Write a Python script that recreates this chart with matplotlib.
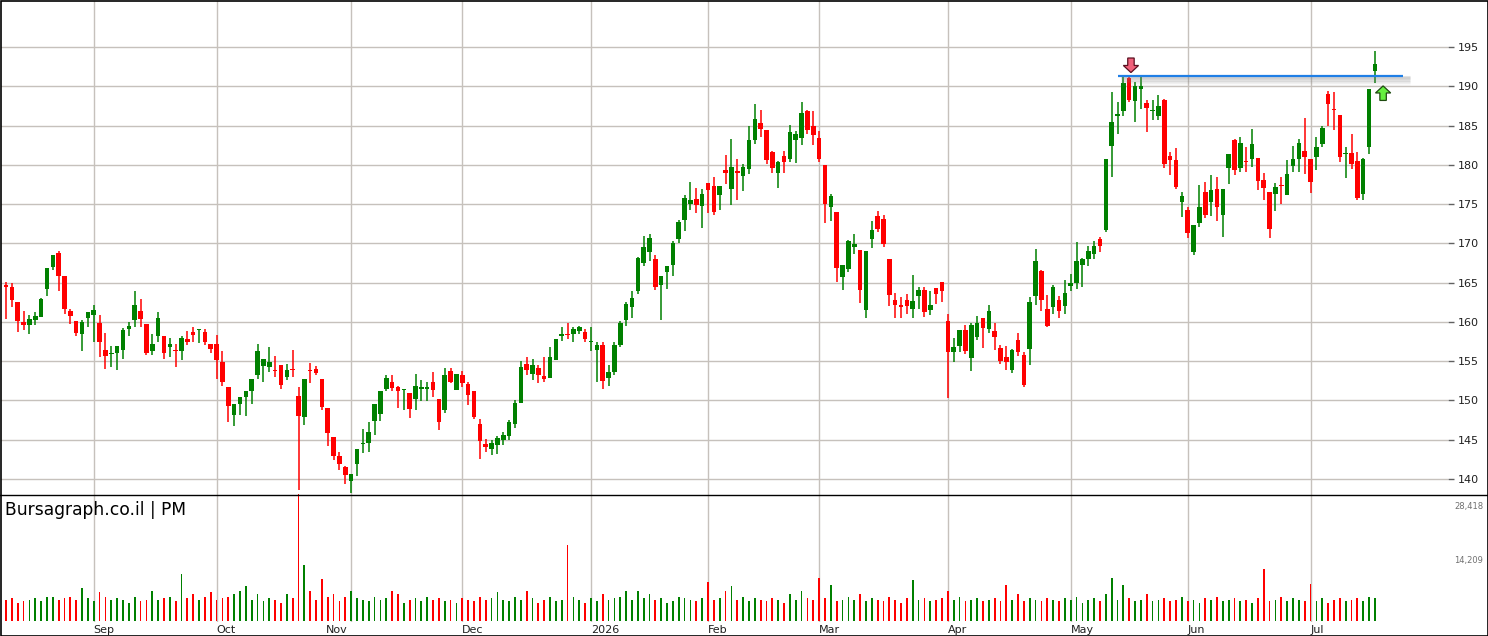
import matplotlib
matplotlib.use('Agg')
import matplotlib.pyplot as plt
from matplotlib.patches import Rectangle, Polygon
import numpy as np

# ---------------- data ----------------
opens = [164.74,164.4,162.48,160.04,159.57,160.2,160.6,164.19,166.97,168.76,
         165.8,161.45,160.17,158.4,160.56,160.85,159.9,156.45,155.9,155.98,
         156.45,159.06,160.2,161.45,159.79,156.32,158.16,158.25,156.8,156.4,
         156.28,157.8,158.76,158.93,158.76,157.2,157.2,154.9,151.67,148.2,
         149.5,150.4,151.2,153.3,154.4,154.3,153.75,154.5,153.04,154.0,
         150.57,147.94,153.8,154.0,152.74,149.04,145.3,142.9,141.55,139.77,
         141.94,144.4,144.6,147.4,148.3,151.4,152.3,151.67,151.3,150.9,
         150.15,151.5,151.5,152.4,150.15,148.75,153.8,151.3,153.3,152.05,
         151.16,147.0,144.45,143.8,144.3,145.0,145.5,147.0,149.7,154.66,
         153.4,154.15,153.1,152.9,155.2,158.16,158.4,158.4,158.9,158.76,
         157.5,156.4,157.1,152.8,153.6,157.0,160.2,161.9,163.9,167.45,
         168.84,168.0,164.66,166.35,167.2,170.6,173.0,175.04,175.6,174.8,
         177.66,177.3,176.2,179.4,176.93,179.2,178.6,179.5,183.1,185.3,
         184.4,181.6,178.97,181.1,180.75,183.2,183.4,186.8,185.0,183.4,
         179.95,174.6,173.96,165.7,166.7,169.6,169.1,161.5,170.6,173.5,
         173.1,168.05,162.84,162.16,162.84,161.7,163.26,164.1,161.5,164.36,
         165.13,160.17,156.14,156.9,159.0,155.4,158.1,160.5,159.13,158.83,
         156.7,155.5,153.9,157.7,155.77,156.57,163.3,166.5,161.6,161.9,
         162.8,162.06,164.6,165.0,167.2,168.06,168.6,170.5,171.7,182.45,
         186.2,186.8,191.1,188.1,189.6,187.9,186.8,186.16,188.3,181.13,
         180.6,175.3,174.2,168.85,172.6,176.5,175.3,176.96,173.64,179.55,
         183.1,179.55,180.5,180.8,180.9,178.1,176.57,176.23,177.4,176.1,
         179.9,180.7,181.7,180.8,181.04,182.7,189.0,187.1,186.4,181.4,
         181.5,180.5,176.3,182.3,191.9]
highs = [165.13,164.9,162.5,161.45,160.94,161.3,163.08,166.84,168.55,169.0,
         165.8,161.6,160.17,160.3,161.3,162.1,160.9,158.6,156.9,156.97,
         159.2,160.0,163.9,162.9,159.79,158.5,161.2,158.25,157.95,157.2,
         158.25,158.8,159.4,159.1,159.15,157.2,158.3,156.3,151.67,149.5,
         150.5,151.2,152.74,157.2,155.3,156.8,155.7,154.5,154.66,156.45,
         151.7,152.74,154.8,154.4,152.74,149.04,145.3,143.4,141.6,140.7,
         143.8,146.4,147.2,149.5,151.2,153.3,153.2,151.9,151.4,150.9,
         153.4,152.55,152.3,153.6,150.15,154.07,154.07,153.4,153.8,152.3,
         151.16,147.7,145.1,145.0,145.5,146.0,147.5,150.0,155.04,155.55,
         155.3,154.5,155.55,156.8,157.86,159.4,159.8,159.4,159.5,159.15,
         159.3,157.5,157.4,154.5,157.5,160.1,162.5,163.9,168.25,171.0,
         171.24,168.54,165.9,167.15,170.3,172.97,176.1,177.8,177.0,176.9,
         177.66,178.4,177.3,181.2,183.26,180.7,180.1,185.0,187.7,186.95,
         184.4,181.8,180.5,181.73,185.04,184.3,188.0,186.95,186.8,184.3,
         179.95,176.25,173.96,167.2,170.4,171.2,169.1,169.07,172.9,174.15,
         173.64,168.05,163.7,163.2,163.5,166.0,164.5,164.5,163.9,164.36,
         165.13,161.06,158.0,159.0,159.66,159.8,160.74,160.5,162.15,159.85,
         157.06,156.9,156.5,158.6,156.15,163.17,169.3,166.6,163.4,164.7,
         163.3,165.3,166.1,170.2,168.2,169.7,170.25,170.8,180.75,189.3,
         188.0,191.5,191.5,190.5,191.5,188.2,188.2,188.9,188.4,181.64,
         182.15,176.5,174.6,172.35,177.4,177.8,178.74,178.4,176.96,181.4,
         183.34,183.5,182.3,184.6,180.9,178.9,176.57,177.7,178.5,180.66,
         182.45,183.34,185.9,180.8,183.6,185.0,189.46,189.33,186.4,182.3,
         183.96,181.65,180.9,189.7,194.45]
lows = [160.43,161.9,158.68,159.0,158.42,159.57,160.6,163.3,166.6,164.0,
        161.0,159.7,158.16,156.24,159.3,157.5,155.47,154.06,154.3,153.9,
        155.34,158.16,159.3,159.3,155.73,155.73,157.5,155.3,155.56,154.2,
        155.2,157.05,157.5,157.3,157.05,156.0,152.7,151.9,147.2,146.8,
        148.2,148.0,149.5,152.74,152.4,153.6,153.0,151.5,152.66,153.04,
        138.6,146.9,152.2,153.2,148.8,144.2,142.4,141.17,139.3,138.2,
        140.4,143.3,143.5,145.6,147.4,151.2,151.2,149.05,148.8,147.8,
        148.8,149.9,149.9,150.4,146.3,148.4,152.2,151.3,151.75,149.4,
        147.65,142.6,143.5,143.0,143.2,144.3,145.0,146.5,149.7,153.25,
        152.6,152.26,152.4,152.9,155.2,157.6,157.86,157.5,158.4,157.5,
        156.3,152.4,151.5,151.8,153.2,156.8,159.5,160.5,163.6,167.1,
        167.7,164.03,160.3,164.2,165.8,170.1,171.6,174.3,173.9,172.0,
        173.9,173.65,174.2,177.5,174.9,175.5,176.7,178.8,182.66,183.55,
        180.1,178.97,177.06,178.97,180.4,180.2,182.5,183.9,182.5,180.4,
        172.6,172.85,165.1,164.06,166.3,168.7,162.4,160.5,169.36,171.5,
        169.5,162.0,160.5,160.5,161.0,160.5,161.6,160.6,160.85,162.25,
        162.5,150.3,154.9,156.14,155.9,153.8,157.7,156.7,158.6,156.45,
        154.7,153.9,153.5,155.7,151.77,154.5,162.2,161.4,159.3,161.0,
        160.5,161.0,163.9,164.2,164.5,167.1,168.0,168.9,171.45,178.5,
        183.9,186.2,187.95,185.4,187.06,184.16,185.65,185.65,179.6,178.74,
        176.95,173.3,170.7,168.47,172.1,173.2,173.5,172.9,170.8,177.6,
        178.66,179.04,179.04,179.7,176.8,175.5,170.7,174.06,174.96,176.1,
        179.1,179.1,178.87,176.36,179.4,182.3,184.98,184.4,180.4,178.3,
        179.5,175.55,175.55,181.4,190.4]
closes = [164.44,162.78,160.09,159.57,160.43,160.8,162.86,166.84,168.55,165.85,
          161.6,160.8,158.55,160.0,161.3,161.58,157.5,155.6,155.96,156.97,
          159.0,159.53,162.14,160.34,155.98,157.22,160.56,156.1,157.22,156.3,
          157.99,157.4,158.3,159.1,157.4,156.6,155.2,152.35,149.3,149.5,
          150.5,151.2,152.74,156.3,155.3,154.9,153.7,152.0,153.9,153.9,
          148.06,152.74,153.7,153.55,149.2,145.9,142.96,141.9,140.5,140.7,
          143.8,144.5,146.0,149.5,151.2,152.8,151.6,151.2,151.4,148.9,
          151.9,151.67,151.67,151.3,147.3,153.3,152.4,153.4,152.2,150.7,
          147.9,144.9,144.1,144.6,145.2,145.6,147.2,149.7,154.27,153.9,
          154.5,153.25,152.7,155.55,157.86,158.4,158.3,159.15,159.3,157.8,
          157.6,157.1,152.5,153.6,157.0,159.9,162.3,163.1,168.1,169.55,
          170.7,164.45,165.9,167.15,170.06,172.7,175.76,175.5,174.9,176.3,
          176.8,174.03,177.3,178.97,179.7,178.9,179.7,183.1,185.8,184.5,
          180.6,179.6,180.4,180.4,184.15,183.9,186.6,184.4,183.8,180.75,
          175.06,176.0,166.9,167.2,170.3,169.96,164.07,169.07,171.7,171.86,
          169.87,163.4,162.1,161.86,162.0,162.6,164.1,161.2,162.2,163.5,
          164.0,156.14,156.86,159.0,156.27,159.6,159.85,159.2,161.4,158.1,
          154.98,154.96,156.4,156.2,152.0,162.5,167.77,162.83,159.5,164.45,
          161.4,163.7,164.96,167.77,168.0,169.04,169.7,169.7,180.75,185.4,
          186.5,190.47,188.2,190.04,190.04,187.2,187.0,187.5,180.15,180.66,
          177.2,176.0,171.3,172.35,174.6,173.6,176.8,174.66,176.96,181.4,
          179.3,182.83,180.3,182.6,178.0,177.0,171.8,177.2,177.34,178.87,
          180.8,182.83,180.96,177.77,182.3,184.74,187.75,187.0,181.06,181.5,
          180.07,175.8,180.75,189.7,192.9]

# volume bar heights (shares)
volumes = [4900,5300,4200,4700,4900,5300,4700,5600,5600,4900,
           5300,5600,4900,7700,5300,4700,6800,5600,4900,5300,
           4900,4200,5600,4700,4900,7000,4900,5300,5600,4700,
           11000,5300,6300,4900,5600,6800,4900,5300,5600,6300,
           7000,8200,4900,6300,4700,5300,4900,4200,6300,5300,
           29500,13000,7000,4900,9900,5600,6300,4700,5600,7000,
           5300,4900,4700,5600,4900,5300,7000,6300,4200,4900,
           5300,4700,5600,4900,5300,4700,4900,4200,5300,4900,
           4700,5600,4900,5300,6800,4900,4700,5600,4900,7000,
           5300,4200,4900,5600,4700,4900,17700,5600,4900,4200,
           5300,4700,6300,4900,5300,5600,7000,4900,7000,5300,
           6300,4900,5300,4200,4700,5600,5300,4900,4700,5300,
           9100,4900,5300,7000,8200,4900,5600,4700,5300,4900,
           4700,5300,4900,4200,6300,4900,7000,5300,4900,10000,
           5300,8400,4700,4900,5600,4900,6300,4700,5300,4900,
           4700,5600,4900,4200,5300,9600,4900,5300,4700,4900,
           5300,7000,4900,5600,4700,4900,5300,4700,4900,5300,
           4700,8400,4900,6300,4700,5300,4900,4700,5300,4900,
           4700,5300,4900,5600,4200,4900,5300,4700,6300,10000,
           4900,8400,5300,4700,4900,6300,4700,4900,5300,4700,
           4900,5600,4700,4900,4200,5300,4900,5600,4700,4900,
           5300,4700,4900,4200,5300,12000,4700,4900,5600,4700,
           5300,4900,4700,8700,4700,5300,4200,4900,5300,4700,
           4900,5300,4700,5600,5300]

month_labels = ['Sep', 'Oct', 'Nov', 'Dec', '2026', 'Feb', 'Mar', 'Apr', 'May', 'Jun', 'Jul']
month_index = [15, 36, 59, 78, 100, 120, 139, 161, 182, 202, 223]
month_label_pos = [15, 36, 54.7, 78, 100, 120, 139, 161, 182, 202, 223]
price_ticks = [140, 145, 150, 155, 160, 165, 170, 175, 180, 185, 190, 195]
volume_tick_labels = ['28,418', '14,209']
resistance_level = 191.35
resistance_span = (190.1, 238.8)
sell_arrow = (192.3, 193.6)   # index, price of top of arrow
buy_arrow = (235.4, 188.2)    # index, price of bottom of arrow

UP = '#008000'
DOWN = '#FF0000'
GRID = '#C6C1BC'

n = len(opens)
x = np.arange(n)

W, H = 1488, 636
fig = plt.figure(figsize=(W / 100, H / 100), dpi=100)

def frac(px_left, px_top, px_right, px_bottom):
    return [px_left / W, 1 - px_bottom / H, (px_right - px_left) / W, (px_bottom - px_top) / H]

ax = fig.add_axes(frac(1, 1, 1448, 494))
axv = fig.add_axes(frac(1, 494, 1448, 622), sharex=ax)

xmin, xmax = (1 - 6) / 5.85, (1448 - 6) / 5.85
ax.set_xlim(xmin, xmax)
ax.set_ylim(138.09, 200.86)

# grid
for p in price_ticks:
    ax.axhline(p, color=GRID, lw=1.0, zorder=0)
for mi in month_index:
    ax.axvline(mi, color=GRID, lw=1.0, zorder=0)
    axv.axvline(mi, color=GRID, lw=1.0, zorder=0)

# candles
bw = 0.78
for i in range(n):
    o, h, l, c = opens[i], highs[i], lows[i], closes[i]
    col = UP if c >= o else DOWN
    ax.plot([i, i], [l, h], color=col, lw=1.1, solid_capstyle='butt', zorder=2)
    lo, hi = min(o, c), max(o, c)
    ht = max(hi - lo, 0.12)
    ax.add_patch(Rectangle((i - bw / 2, lo), bw, ht, facecolor=col, edgecolor='none', zorder=3))

# resistance line with shadow
x0, x1 = resistance_span
for k, a in enumerate([0.22, 0.18, 0.14, 0.10, 0.07, 0.04]):
    ax.plot([x0 + 0.5, x1 + 1.2], [resistance_level - 0.18 - k * 0.17] * 2,
            color='#808080', alpha=a, lw=2.2, solid_capstyle='butt', zorder=3)
ax.plot([x0, x1], [resistance_level, resistance_level], color='#1F7FE6', lw=1.6,
        solid_capstyle='butt', zorder=4)

# arrows
def arrow(ax, xc, ytip, direction, face, edge):
    hw, sw = 1.3, 0.55
    hl, tl = 0.9, 0.95
    d = direction
    pts = [(xc, ytip),
           (xc - hw, ytip - d * hl),
           (xc - sw, ytip - d * hl),
           (xc - sw, ytip - d * (hl + tl)),
           (xc + sw, ytip - d * (hl + tl)),
           (xc + sw, ytip - d * hl),
           (xc + hw, ytip - d * hl)]
    ax.add_patch(Polygon(pts, closed=True, facecolor=face, edgecolor=edge, lw=0.9, zorder=6))

arrow(ax, sell_arrow[0], sell_arrow[1] - 1.85, -1, '#F0607A', '#5A1020')
arrow(ax, buy_arrow[0], buy_arrow[1] + 1.85, +1, '#66F040', '#1E4A10')

# price axis ticks on right
ax.yaxis.tick_right()
ax.set_yticks(price_ticks)
ax.set_yticklabels([str(p) for p in price_ticks], fontsize=8, color='#202020')
ax.tick_params(axis='y', direction='out', length=4, width=1, color='#606060', pad=3)
ax.tick_params(axis='x', bottom=False, labelbottom=False)
for s in ax.spines.values():
    s.set_visible(False)

# volume panel
vcols = [UP if closes[i] >= opens[i] else DOWN for i in range(n)]
axv.bar(x, volumes, width=0.3, color=vcols, zorder=2)
axv.set_ylim(-233, 29590)
axv.set_yticks([])
for s in axv.spines.values():
    s.set_visible(False)
axv.tick_params(axis='x', bottom=False, labelbottom=False)
fig.text(1454 / W, 1 - 507 / H, volume_tick_labels[0], fontsize=6, color='#707070', va='center', ha='left')
fig.text(1454 / W, 1 - 560 / H, volume_tick_labels[1], fontsize=6, color='#707070', va='center', ha='left')

# month labels
for lab, mi in zip(month_labels, month_label_pos):
    axv.text(mi, -0.025, lab, transform=axv.get_xaxis_transform(), fontsize=8,
             ha='left', va='top', color='#202020')

fig.text(5 / W, 1 - 510 / H, 'Bursagraph.co.il | PM', fontsize=12.3, color='black',
         va='center', ha='left')

# frame lines
fig.add_artist(plt.Line2D([0, 1], [1 - 494.5 / H] * 2, color='black', lw=1.0))
fig.add_artist(Rectangle((0.5 / W, 0.5 / H), 1 - 1 / W, 1 - 1 / H, transform=fig.transFigure,
                         fill=False, edgecolor='black', lw=1.2))

fig.savefig('out.png', dpi=100)
